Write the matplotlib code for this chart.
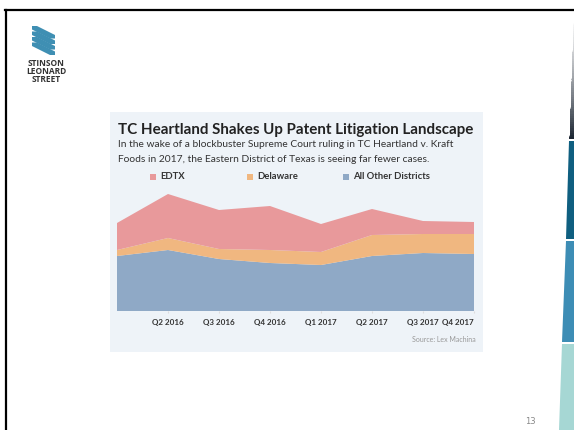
import numpy as np
import matplotlib.pyplot as plt
from matplotlib.patches import Polygon, Rectangle

# data (cases per quarter, approximate)
quarters = ["Q1 2016", "Q2 2016", "Q3 2016", "Q4 2016",
            "Q1 2017", "Q2 2017", "Q3 2017", "Q4 2017"]
other = [550, 610, 520, 480, 460, 550, 580, 570]
delaware = [60, 120, 100, 130, 130, 210, 190, 200]
edtx = [270, 440, 390, 440, 280, 260, 130, 120]

series_names = ["EDTX", "Delaware", "All Other Districts"]
series_colors = ["#e8999b", "#f0b780", "#8fa9c6"]

W, H = 574, 430


def px(x, y):
    # pixel position (from top-left) -> figure fraction
    return x / W, 1 - y / H


fig = plt.figure(figsize=(W / 100, H / 100), dpi=100)
fig.patch.set_facecolor("white")

# slide frame
fig.add_artist(plt.Line2D([5 / W, 1], [1 - 10 / H] * 2, color="black", lw=1.6))
fig.add_artist(plt.Line2D([6 / W] * 2, [0, 1 - 10 / H], color="black", lw=1.6))

# right-hand decorative stripes
def left_edge(y):
    return 574 - 15 * (y - 10) / 420


def stripe(y0, y1, color):
    pts = [px(left_edge(y0), y0), px(W, y0), px(W, y1), px(left_edge(y1), y1)]
    fig.add_artist(Polygon(pts, closed=True, facecolor=color, edgecolor="none",
                           transform=fig.transFigure))


n = 60
ys = np.linspace(12, 139, n + 1)
for i in range(n):
    t = (i / (n - 1)) ** 1.3
    c = np.array([1, 1, 1]) * (1 - t) + np.array([0.11, 0.15, 0.2]) * t
    stripe(ys[i], ys[i + 1] + 0.3, c)
stripe(141, 239, "#0f5f80")
stripe(241, 342, "#3d8db5")
stripe(344, 430, "#a6d7d4")

# logo
for i in range(4):
    y0 = 26 + 5.5 * i
    pts = [px(32, y0), px(37, y0), px(55, y0 + 9), px(55, y0 + 12.5), px(50, y0 + 12.5), px(32, y0 + 3.5)]
    fig.add_artist(Polygon(pts, closed=True, facecolor="#3f8fb3", edgecolor="none",
                           transform=fig.transFigure))
for word, y in zip(["STINSON", "LEONARD", "STREET"], [63, 71.5, 80]):
    fig.text(*px(46, y), word, ha="center", va="center", fontsize=6,
             fontweight="bold", color="#333333", family="Open Sans")

# chart panel
fig.add_artist(Rectangle(px(110, 352), 373 / W, 240 / H, facecolor="#eef3f8",
                         edgecolor="none", transform=fig.transFigure, zorder=-1))

fig.text(*px(118, 130), "TC Heartland Shakes Up Patent Litigation Landscape",
         ha="left", va="center", fontsize=10.9, fontweight="bold",
         color="#222222", family="Lato")
fig.text(*px(118, 145), "In the wake of a blockbuster Supreme Court ruling in TC Heartland v. Kraft",
         ha="left", va="center", fontsize=7.4, color="#333333", family="Lato")
fig.text(*px(118, 160), "Foods in 2017, the Eastern District of Texas is seeing far fewer cases.",
         ha="left", va="center", fontsize=7.4, color="#333333", family="Lato")

# legend
for name, color, x in zip(series_names, series_colors, [150, 247, 343]):
    fig.add_artist(Rectangle(px(x, 180), 6 / W, 6 / H, facecolor=color,
                             edgecolor="none", transform=fig.transFigure))
    fig.text(*px(x + 10, 177), name, ha="left", va="center", fontsize=6.8,
             fontweight="bold", color="#333333", family="Lato")

# stacked area chart
x0, x1, ybase = 117, 474, 311
ax = fig.add_axes([x0 / W, 1 - ybase / H, (x1 - x0) / W, 130 / H])
ax.set_facecolor("none")
xs = np.arange(len(quarters))
ax.stackplot(xs, other, delaware, edtx,
             colors=[series_colors[2], series_colors[1], series_colors[0]],
             linewidth=0)
ax.set_xlim(0, len(quarters) - 1)
ax.set_ylim(0, 1300)
ax.set_yticks([])
for s in ax.spines.values():
    s.set_visible(False)
ax.set_xticks(xs[1:])
labels = ax.set_xticklabels(quarters[1:], fontsize=5.8, fontweight="bold",
                            color="#333333", family="Lato")
labels[-1].set_ha("right")
ax.tick_params(axis="x", length=1.5, color="#dddddd", pad=4)

fig.text(*px(476, 339), "Source: Lex Machina", ha="right", va="center",
         fontsize=5, color="#999999", family="Lato")

fig.text(*px(530, 421), "13", ha="center", va="center", fontsize=6,
         color="#888888")

fig.savefig("out.png", dpi=100)
